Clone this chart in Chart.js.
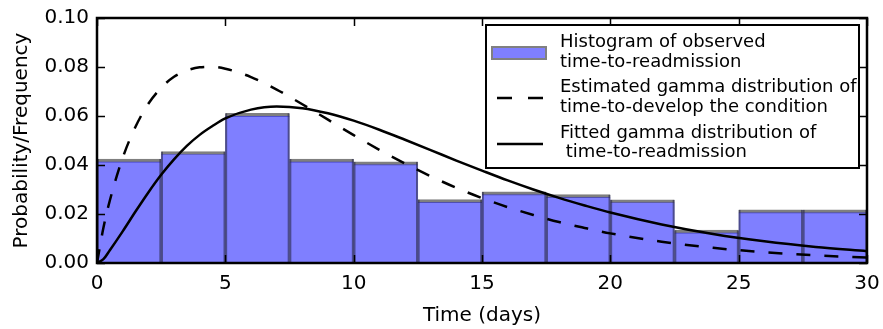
<!DOCTYPE html>
<html>
<head>
<meta charset="utf-8">
<script src="https://cdn.jsdelivr.net/npm/chart.js@4.4.1/dist/chart.umd.min.js"></script>
<style>
html,body{margin:0;padding:0;background:#fff;}
#wrap{width:883px;height:329px;position:relative;}
</style>
</head>
<body>
<div id="wrap"><canvas id="c" width="883" height="329"></canvas></div>
<script>
// ---- data ----
const binStarts  = [0, 2.5, 5, 7.5, 10, 12.5, 15, 17.5, 20, 22.5, 25, 27.5];
const binWidth   = 2.5;
const binHeights = [0.0424, 0.0455, 0.0611, 0.0424, 0.0413, 0.0259, 0.0290, 0.0279, 0.0258, 0.0134, 0.0217, 0.0217];

const curveX  = [0, 0.25, 0.5, 1, 1.5, 2, 2.5, 3, 3.5, 4, 4.5, 5, 6, 7, 8, 9, 10, 11, 12, 13, 14, 15, 16, 17, 18, 19, 20, 22, 24, 26, 28, 30];
// estimated gamma distribution of time-to-develop (dashed)
const dashedY = [0, 0.0144, 0.0255, 0.0429, 0.0556, 0.0650, 0.0715, 0.0760, 0.0786, 0.0799, 0.0801, 0.0793, 0.0759, 0.0708, 0.0648, 0.0585, 0.0522, 0.0462, 0.0406, 0.0354, 0.0307, 0.0265, 0.0228, 0.0196, 0.0167, 0.0143, 0.0121, 0.0087, 0.0062, 0.0044, 0.0031, 0.0022];
// fitted gamma distribution of time-to-readmission (solid)
const solidY  = [0, 0.0016, 0.0052, 0.0129, 0.0210, 0.0288, 0.0360, 0.0423, 0.0478, 0.0523, 0.0559, 0.0590, 0.0626, 0.0639, 0.0632, 0.0611, 0.0581, 0.0544, 0.0503, 0.0461, 0.0418, 0.0377, 0.0337, 0.0300, 0.0266, 0.0235, 0.0206, 0.01575, 0.01187, 0.00886, 0.00656, 0.00482];

const xTicks = [0, 5, 10, 15, 20, 25, 30];
const yTicks = [0, 0.02, 0.04, 0.06, 0.08, 0.10];

const legendLabels = [
  ['Histogram of observed', 'time-to-readmission'],
  ['Estimated gamma distribution of', 'time-to-develop the condition'],
  ['Fitted gamma distribution of', ' time-to-readmission']
];

const FONT = '"DejaVu Sans", sans-serif';
const BAR_FILL = 'rgba(0,0,255,0.5)';
const BAR_EDGE = 'rgba(0,0,0,0.5)';
const BAR_SIDE = 'rgba(40,40,70,0.6)';
const DASH = [14, 14];

const framePlugin = {
  id: 'frameTicks',
  afterDatasetsDraw(chart) {
    const {ctx, chartArea: a, scales: {x, y}} = chart;
    ctx.save();
    ctx.strokeStyle = '#000';
    ctx.lineWidth = 1.5;
    const L = 8;
    ctx.beginPath();
    xTicks.forEach(v => {
      const px = Math.round(x.getPixelForValue(v)) + 0.5;
      ctx.moveTo(px, a.bottom); ctx.lineTo(px, a.bottom - L);
      ctx.moveTo(px, a.top); ctx.lineTo(px, a.top + L);
    });
    yTicks.forEach(v => {
      const py = Math.round(y.getPixelForValue(v)) + 0.5;
      ctx.moveTo(a.left, py); ctx.lineTo(a.left + L, py);
      ctx.moveTo(a.right, py); ctx.lineTo(a.right - L, py);
    });
    ctx.stroke();
    ctx.lineWidth = 2.5;
    ctx.strokeRect(a.left, a.top, a.right - a.left, a.bottom - a.top);
    ctx.restore();
  },
  afterDraw(chart) {
    const {ctx, chartArea: a} = chart;
    ctx.save();
    // legend box
    const bx = a.right - 381, by = a.top + 7, bw = 373, bh = 143;
    ctx.fillStyle = '#fff';
    ctx.fillRect(bx, by, bw, bh);
    ctx.strokeStyle = '#000';
    ctx.lineWidth = 2;
    ctx.strokeRect(bx, by, bw, bh);
    // handles
    const hx = bx + 6, hw = 54;
    ctx.fillStyle = BAR_FILL;
    ctx.fillRect(hx, by + 22, hw, 12);
    ctx.strokeStyle = 'rgb(128,128,128)';
    ctx.lineWidth = 2;
    ctx.strokeRect(hx, by + 22, hw, 12);
    ctx.strokeStyle = '#000';
    ctx.lineWidth = 2.5;
    ctx.beginPath();
    ctx.moveTo(hx + 5, by + 73); ctx.lineTo(hx + 20, by + 73);
    ctx.moveTo(hx + 36, by + 73); ctx.lineTo(hx + 51, by + 73);
    ctx.moveTo(hx + 5, by + 119); ctx.lineTo(hx + 51, by + 119);
    ctx.stroke();
    // texts
    ctx.fillStyle = '#000';
    ctx.font = '18px ' + FONT;
    ctx.textBaseline = 'middle';
    ctx.textAlign = 'left';
    const tx = bx + 74;
    const rows = [[by + 17, by + 37], [by + 62, by + 82], [by + 108, by + 127]];
    legendLabels.forEach((lines, i) => {
      lines.forEach((t, j) => ctx.fillText(t, tx, rows[i][j]));
    });
    ctx.restore();
  }
};

const barData = binStarts.map((s, i) => ({x: s + binWidth / 2, y: binHeights[i]}));

new Chart(document.getElementById('c'), {
  type: 'bar',
  data: {
    datasets: [
      {
        type: 'line',
        label: 'Estimated gamma distribution of time-to-develop the condition',
        data: curveX.map((v, i) => ({x: v, y: dashedY[i]})),
        borderColor: '#000',
        borderWidth: 2.5,
        borderDash: DASH,
        pointRadius: 0,
        cubicInterpolationMode: 'monotone',
        fill: false,
        order: 1
      },
      {
        type: 'line',
        label: 'Fitted gamma distribution of time-to-readmission',
        data: curveX.map((v, i) => ({x: v, y: solidY[i]})),
        borderColor: '#000',
        borderWidth: 2.5,
        pointRadius: 0,
        cubicInterpolationMode: 'monotone',
        fill: false,
        order: 1
      },
      {
        type: 'bar',
        label: 'bar sides',
        data: barData,
        backgroundColor: 'rgba(0,0,0,0)',
        borderColor: BAR_SIDE,
        borderWidth: {top: 0, left: 1.5, right: 1.5, bottom: 0},
        borderSkipped: false,
        barPercentage: 1,
        categoryPercentage: 1,
        grouped: false,
        order: 2
      },
      {
        type: 'bar',
        label: 'Histogram of observed time-to-readmission',
        data: barData,
        backgroundColor: BAR_FILL,
        borderColor: BAR_EDGE,
        borderWidth: {top: 3, left: 0, right: 0, bottom: 0},
        borderSkipped: false,
        barPercentage: 1,
        categoryPercentage: 1,
        grouped: false,
        order: 3
      }
    ]
  },
  options: {
    responsive: false,
    animation: false,
    devicePixelRatio: 1,
    layout: {padding: {top: 18, right: 16, left: 0, bottom: 0}},
    plugins: {legend: {display: false}, tooltip: {enabled: false}},
    scales: {
      x: {
        type: 'linear',
        offset: false,
        min: 0, max: 30,
        afterBuildTicks: s => { s.ticks = xTicks.map(v => ({value: v})); },
        afterFit: s => { s.height = 66; s.paddingLeft = 0; s.paddingRight = 0; },
        grid: {display: false, drawTicks: false},
        border: {display: false},
        ticks: {color: '#000', font: {family: FONT, size: 20}, padding: 9, maxRotation: 0, callback: v => String(v)},
        title: {display: true, text: 'Time (days)', color: '#000', font: {family: FONT, size: 20}, padding: {top: 4, bottom: 1}}
      },
      y: {
        type: 'linear',
        min: 0, max: 0.1,
        afterBuildTicks: s => { s.ticks = yTicks.map(v => ({value: v})); },
        afterFit: s => { s.width = 97; s.paddingTop = 0; s.paddingBottom = 0; },
        grid: {display: false, drawTicks: false},
        border: {display: false},
        ticks: {color: '#000', font: {family: FONT, size: 20}, padding: 8, callback: v => Number(v).toFixed(2)},
        title: {display: true, text: 'Probability/Frequency', color: '#000', font: {family: FONT, size: 20}, padding: {top: 10, bottom: 0}}
      }
    }
  },
  plugins: [framePlugin]
});
</script>
</body>
</html>
